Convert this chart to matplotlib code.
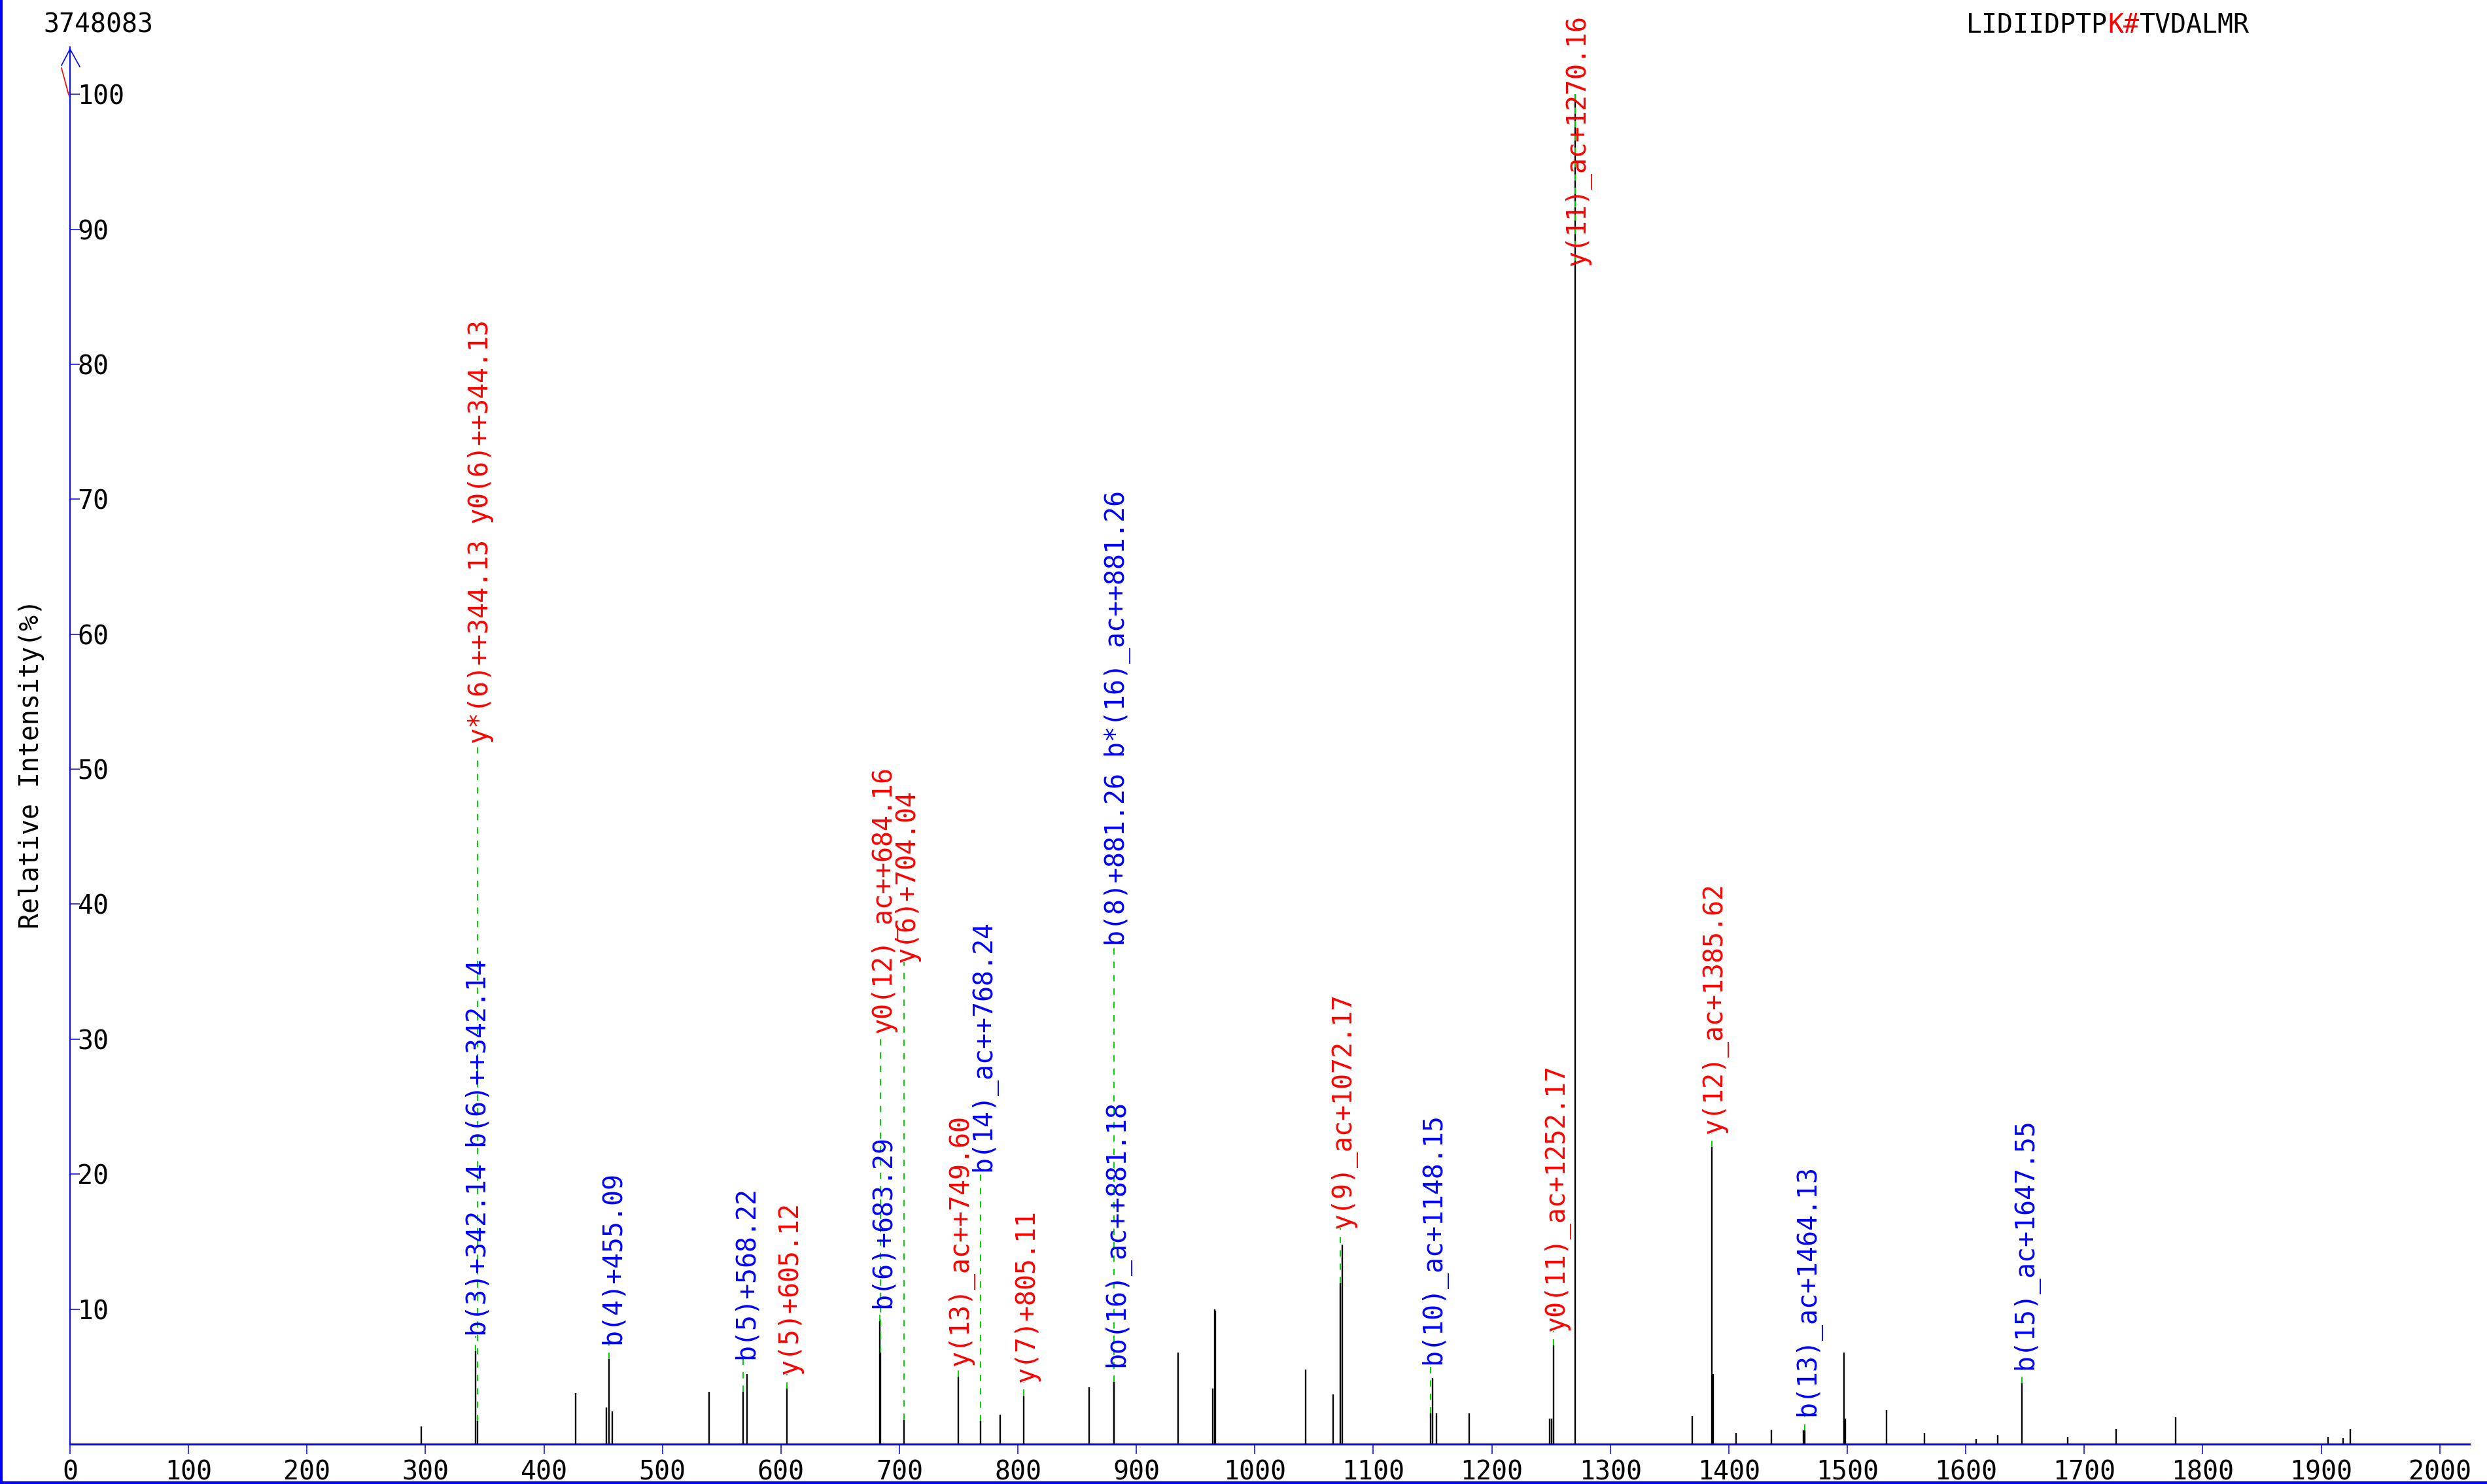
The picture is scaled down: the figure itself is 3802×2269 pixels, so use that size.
import matplotlib
matplotlib.use("Agg")
import matplotlib.pyplot as plt
from matplotlib.lines import Line2D
from matplotlib.transforms import offset_copy

W, H, DPI = 3802, 2269, 100
FONT = "DejaVu Sans Mono"
FS = 28.7
BLUE = "#0000ff"
RED = "#ff0000"
GREEN = "#00d200"

base_peak_abs = "3748083"
sequence = ["LIDIIDPTP", "K#", "TVDALMR"]
sequence_colors = ["black", RED, "black"]

# peak list: m/z and relative intensity (%)
mz = [296.5, 342.14, 344.13, 427.0, 452.5, 455.09, 457.5, 539.5, 568.22, 571.2,
      605.12, 683.29, 684.16, 704.04, 749.60, 768.24, 785.0, 805.11, 860.0, 881.18,
      881.26, 935.3, 964.5, 965.9, 966.9, 1043.0, 1066.0, 1072.17, 1073.9, 1148.15,
      1149.8, 1153.2, 1180.9, 1249.0, 1250.2, 1252.17, 1270.16, 1369.2, 1385.62, 1386.8,
      1406.0, 1435.7, 1462.9, 1464.13, 1497.3, 1498.5, 1533.0, 1565.3, 1608.5, 1627.2,
      1647.55, 1686.0, 1727.0, 1777.2, 1905.5, 1918.5, 1924.6]
intensity = [1.3, 6.9, 1.7, 3.8, 2.7, 6.3, 2.4, 3.9, 3.9, 5.2,
             4.1, 9.1, 6.8, 1.8, 5.0, 1.7, 2.2, 3.6, 4.2, 4.6,
             4.6, 6.8, 4.1, 10.0, 9.9, 5.5, 3.7, 11.9, 14.8, 2.3,
             4.9, 2.3, 2.3, 1.9, 1.9, 7.3, 100.0, 2.1, 22.0, 5.2,
             0.8, 1.05, 1.0, 1.0, 6.8, 1.9, 2.5, 0.8, 0.4, 0.7,
             4.5, 0.55, 1.1, 2.0, 0.55, 0.45, 1.1]

# matched fragment ions
ion_mz = [342.14, 344.13, 455.09, 568.22, 605.12, 683.29, 684.16, 704.04, 749.60, 768.24,
          805.11, 881.18, 881.26, 1072.17, 1148.15, 1252.17, 1270.16, 1385.62, 1464.13, 1647.55]
ion_labels = ["b(3)+342.14 b(6)++342.14", "y*(6)++344.13 y0(6)++344.13", "b(4)+455.09",
              "b(5)+568.22", "y(5)+605.12", "b(6)+683.29", "y0(12)_ac++684.16", "y(6)+704.04",
              "y(13)_ac++749.60", "b(14)_ac++768.24", "y(7)+805.11", "bo(16)_ac++881.18",
              "b(8)+881.26 b*(16)_ac++881.26", "y(9)_ac+1072.17", "b(10)_ac+1148.15",
              "y0(11)_ac+1252.17", "y(11)_ac+1270.16", "y(12)_ac+1385.62", "b(13)_ac+1464.13",
              "b(15)_ac+1647.55"]

# where each rotated label starts (in % units)
label_base = [8.0, 51.9, 7.4, 6.3, 5.2, 10.1, 30.5, 35.7, 5.8, 20.2,
              4.6, 5.7, 36.9, 16.0, 5.9, 8.4, 87.3, 23.0, 2.1, 5.5]

x_ticks = list(range(0, 2001, 100))
y_ticks = list(range(10, 101, 10))

fig = plt.figure(figsize=(W / DPI, H / DPI), dpi=DPI, facecolor="white")

# axes placed in pixel terms
left, right, bottom_px, top_px = 107, 3775, 2208, 72
ax = fig.add_axes([left / W, (H - bottom_px) / H, (right - left) / W, (bottom_px - top_px) / H])
ax.set_xlim(0, 2025)
ax.set_ylim(0, 103.5)
ax.set_facecolor("white")

for s in ("top", "right"):
    ax.spines[s].set_visible(False)
ax.spines["bottom"].set_color(BLUE)
ax.spines["bottom"].set_linewidth(2.2)
ax.spines["left"].set_color(BLUE)
ax.spines["left"].set_linewidth(1.4)

ax.set_xticks(x_ticks)
ax.set_xticklabels([str(t) for t in x_ticks], fontsize=FS, family=FONT)
ax.tick_params(axis="x", direction="out", length=10.8, width=1.1, color=BLUE,
               labelcolor="black", pad=6)

ax.set_yticks(y_ticks)
ax.set_yticklabels([str(t) for t in y_ticks], fontsize=FS, family=FONT)
ax.tick_params(axis="y", direction="in", length=10.8, width=1.1, color=BLUE,
               labelcolor="black", pad=-8)
for tl in ax.get_yticklabels():
    tl.set_horizontalalignment("left")

# spectrum sticks
ax.vlines(mz, 0, intensity, colors="black", lw=1.7, zorder=2)

# ion annotations
label_tr = offset_copy(ax.transData, fig=fig, x=5, y=0, units="dots")
for m, lab, base in zip(ion_mz, ion_labels, label_base):
    idx = min(range(len(mz)), key=lambda i: abs(mz[i] - m))
    top = intensity[idx]
    ax.plot([m, m], [top, base], color=GREEN, lw=1.4, dashes=(5, 5.5), zorder=3)
    col = BLUE if lab.startswith("b") else RED
    ax.text(m, base, lab, rotation=90, ha="center", va="bottom", color=col,
            fontsize=FS, family=FONT, transform=label_tr, zorder=4, clip_on=False)


def fx(x):
    return x / W


def fy(y):
    return 1 - y / H


# arrow head on the intensity axis
fig.add_artist(Line2D([fx(94), fx(107), fx(122)], [fy(100), fy(75), fy(102)],
                      color=BLUE, lw=1.2, transform=fig.transFigure))
fig.add_artist(Line2D([fx(94), fx(105)], [fy(104), fy(145)],
                      color=RED, lw=1.2, transform=fig.transFigure))

# frame edges
fig.add_artist(Line2D([fx(1.5), fx(1.5)], [0, 1], color=BLUE, lw=3, transform=fig.transFigure))
fig.add_artist(Line2D([0, 1], [fy(2267), fy(2267)], color=BLUE, lw=3, transform=fig.transFigure))

fig.text(fx(48), fy(1168), "Relative Intensity(%)", rotation=90, ha="center", va="center",
         fontsize=FS, family=FONT, color="black")
fig.text(fx(66), fy(50), base_peak_abs, ha="left", va="baseline",
         fontsize=FS, family=FONT, color="black")

# peptide sequence with the modified residue highlighted
adv = 0.60205 * FS * DPI / 72
x0 = 3006
n = 0
for part, col in zip(sequence, sequence_colors):
    fig.text(fx(x0 + n * adv), fy(50), part, ha="left", va="baseline",
             fontsize=FS, family=FONT, color=col)
    n += len(part)

fig.savefig("out.png", dpi=DPI, facecolor="white")
